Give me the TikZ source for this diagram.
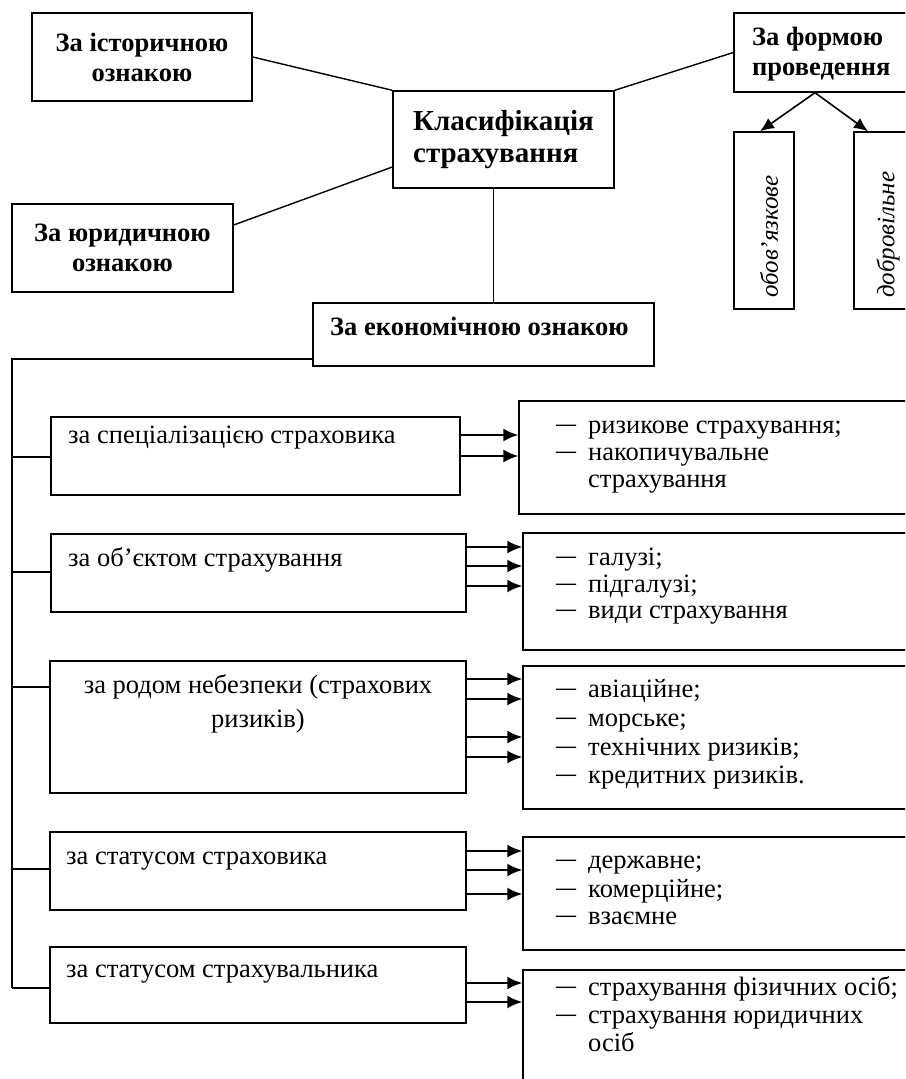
\documentclass[tikz,border=0pt]{standalone}
\usepackage{fontspec}
\setmainfont{Liberation Serif}
\usetikzlibrary{arrows.meta,calc}
\newcommand{\dsh}{\makebox[32pt][l]{\raisebox{2.2pt}{\fontsize{20}{20}\selectfont\bfseries —}}}
\begin{document}
\begin{tikzpicture}[x=1pt,y=-1pt,
  box/.style={draw, line width=1.4pt, inner sep=0pt},
  bt/.style={font=\bfseries\fontsize{26.5}{30}\selectfont, align=center},
  kt/.style={font=\bfseries\fontsize{29}{32}\selectfont, align=left},
  lt/.style={font=\fontsize{26.5}{27}\selectfont, inner sep=0pt, anchor=base west},
  it/.style={font=\itshape\fontsize{25}{26}\selectfont, inner sep=0pt, rotate=90, anchor=west},
  conn/.style={line width=1.4pt},
  arr/.style={line width=2.2pt, -{Latex[length=15pt,width=13pt]}},
  darr/.style={line width=1.6pt, -{Latex[length=14pt,width=12pt]}},
]
\useasboundingbox (0,0) rectangle (905,1079);
\clip (0,0) rectangle (905,1079);

% top boxes
\node[box, bt, minimum width=220pt, minimum height=88pt] (hist) at (142,57) {За історичною\\ознакою};
\node[box, kt, minimum width=221pt, minimum height=97pt] (klas) at (503.5,139.5) {Класифікація\\страхування};
\node[box, bt, minimum width=221pt, minimum height=88pt] (yur) at (122.5,248) {За юридичною\\ознакою};
\node[box, minimum width=341pt, minimum height=63pt] (ekon) at (483.5,334.5) {};
\node[lt, font=\bfseries\fontsize{26.5}{30}\selectfont] (ekont) at (330,335) {За економічною ознакою};
\node[box, minimum width=180pt, minimum height=79pt] (forma) at (824,52.5) {};
\node[lt, align=left, font=\bfseries\fontsize{26.5}{30}\selectfont] (format) at (752,75) {За формою\\проведення};
\node[box, minimum width=60pt, minimum height=177pt] (oblig) at (764,220.5) {};
\node[box, minimum width=60pt, minimum height=177pt] (volun) at (884,220.5) {};
\node[it] (obligt) at (769,298) {обов’язкове};
\node[it] (volunt) at (888,298) {добровільне};

% top connectors
\draw[conn] (hist.east) -- (klas.north west);
\draw[conn] ([yshift=23pt]yur.east) -- ([yshift=-27.5pt]klas.west);
\draw[conn] (klas.north east) -- (forma.west);
\draw[conn] ([xshift=-10pt]klas.south) coordinate (kd) -- (kd |- ekon.north);
\draw[darr] ([xshift=-9pt]forma.south) coordinate (fs) -- ([xshift=-4pt]oblig.north);
\draw[darr] (fs) -- ([xshift=-16pt]volun.north);

% left boxes
\node[box, minimum width=409pt, minimum height=78pt] (b1) at (255.5,456) {};
\node[box, minimum width=415pt, minimum height=78pt] (b2) at (258.5,573) {};
\node[box, minimum width=416pt, minimum height=132pt] (b3) at (258,727) {};
\node[box, minimum width=416pt, minimum height=78pt] (b4) at (258,871) {};
\node[box, minimum width=416pt, minimum height=76pt] (b5) at (258,985) {};
\node[lt] (b1t) at (68,443) {за спеціалізацією страховика};
\node[lt] (b2t) at (68,566) {за об’єктом страхування};
\node[lt, anchor=base, align=center, font=\fontsize{26.5}{34}\selectfont] (b3t) at (258,727) {за родом небезпеки (страхових\\ризиків)};
\node[lt] (b4t) at (66,864) {за статусом страховика};
\node[lt] (b5t) at (66,977) {за статусом страхувальника};

% trunk
\draw[conn] ([yshift=-24.5pt]ekon.west) -- (12,359) -- (12,988) coordinate (tb);
\draw[conn] (12,457) -- (b1.west |- 12,457);
\draw[conn] (12,572) -- (b2.west |- 12,572);
\draw[conn] (12,687) -- (b3.west |- 12,687);
\draw[conn] (12,869) -- (b4.west |- 12,869);
\draw[conn] (tb) -- (b5.west |- tb);

% right boxes
\node[box, minimum width=395pt, minimum height=113pt] (r1) at (716.5,457.5) {};
\node[box, minimum width=391pt, minimum height=117pt] (r2) at (718.5,591.5) {};
\node[box, minimum width=391pt, minimum height=143pt] (r3) at (718.5,737.5) {};
\node[box, minimum width=391pt, minimum height=113pt] (r4) at (718.5,893.5) {};
\node[box, minimum width=391pt, minimum height=130pt] (r5) at (718.5,1035) {};

% arrows
\foreach \y in {435,456} \draw[arr] (b1.east |- 0,\y) -- (r1.west |- 0,\y);
\foreach \y in {547,566,586} \draw[arr] (b2.east |- 0,\y) -- (r2.west |- 0,\y);
\foreach \y in {679,699,737,757} \draw[arr] (b3.east |- 0,\y) -- (r3.west |- 0,\y);
\foreach \y in {851,870,894} \draw[arr] (b4.east |- 0,\y) -- (r4.west |- 0,\y);
\foreach \y in {983,1002} \draw[arr] (b5.east |- 0,\y) -- (r5.west |- 0,\y);

% right texts
\node[lt] (r1a) at (556,433) {\dsh ризикове страхування;};
\node[lt] (r1b) at (556,460) {\dsh накопичувальне};
\node[lt] (r1c) at (588,487) {страхування};
\node[lt] (r2a) at (556,565) {\dsh галузі;};
\node[lt] (r2b) at (556,592) {\dsh підгалузі;};
\node[lt] (r2c) at (556,618) {\dsh види страхування};
\node[lt] (r3a) at (556,697) {\dsh авіаційне;};
\node[lt] (r3b) at (556,726) {\dsh морське;};
\node[lt] (r3c) at (556,755) {\dsh технічних ризиків;};
\node[lt] (r3d) at (556,783) {\dsh кредитних ризиків.};
\node[lt] (r4a) at (556,868) {\dsh державне;};
\node[lt] (r4b) at (556,897) {\dsh комерційне;};
\node[lt] (r4c) at (556,924) {\dsh взаємне};
\node[lt] (r5a) at (556,995) {\dsh страхування фізичних осіб;};
\node[lt] (r5b) at (556,1023) {\dsh страхування юридичних};
\node[lt] (r5c) at (588,1051) {осіб};
\end{tikzpicture}
\end{document}
